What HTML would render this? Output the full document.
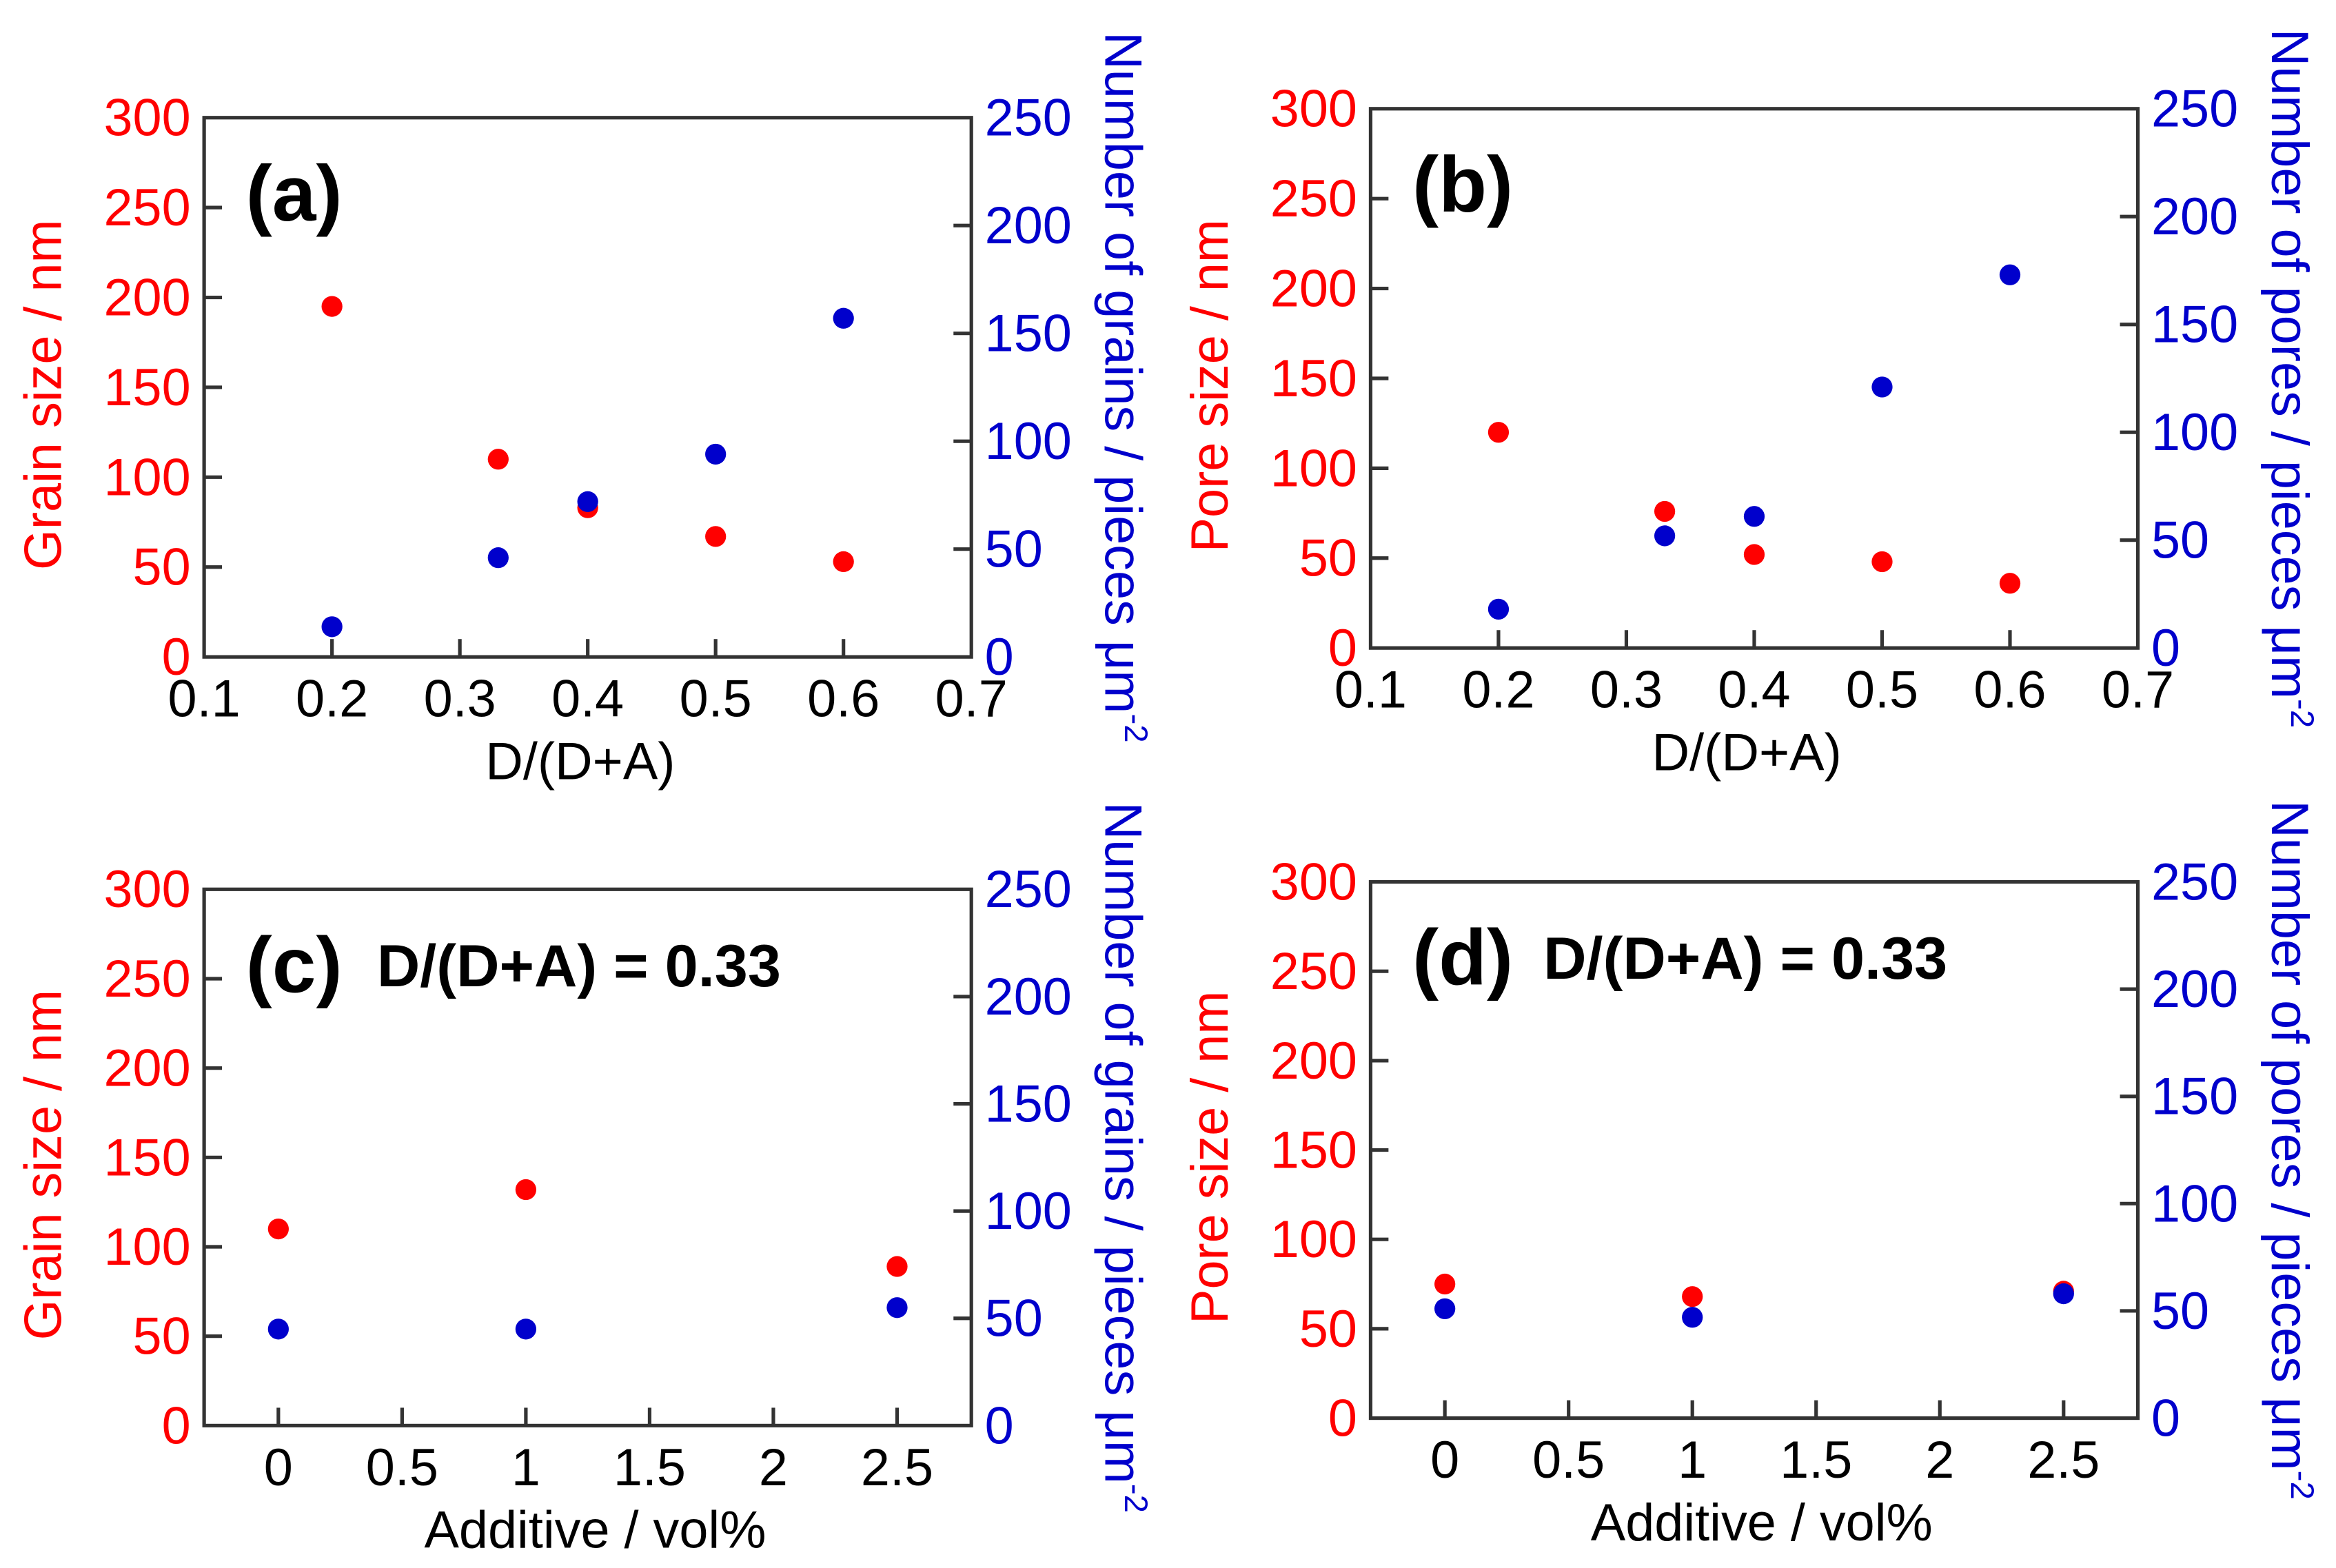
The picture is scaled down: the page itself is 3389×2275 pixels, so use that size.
<!DOCTYPE html>
<html><head><meta charset="utf-8"><style>html,body{margin:0;padding:0;background:#fff}svg{display:block}</style></head>
<body>
<svg id="fig" xmlns="http://www.w3.org/2000/svg" width="3389" height="2275" viewBox="0 0 1568 1052.6" font-family="Liberation Sans, Arial, sans-serif"></svg>
<script>
const xA = [0.2, 0.33, 0.4, 0.5, 0.6];
const redA = [195, 110, 83, 67, 53];
const blueA = [14, 46, 72, 94, 157];
const redB = [120, 76, 52, 48, 36];
const blueB = [18, 52, 61, 121, 173];
const xC = [0, 1, 2.5];
const redC = [110, 132, 89];
const blueC = [45, 45, 55];
const redD = [75, 68, 71];
const blueD = [51, 47, 58];
const xTicksAB = ["0.1","0.2","0.3","0.4","0.5","0.6","0.7"];
const xTicksCD = ["0","0.5","1","1.5","2","2.5"];
const leftTicks = ["0","50","100","150","200","250","300"];
const rightTicks = ["0","50","100","150","200","250"];

const NS = "http://www.w3.org/2000/svg";
const svg = document.getElementById('fig');
function mk(tag, attrs, parent) {
  const e = document.createElementNS(NS, tag);
  for (const k in attrs) e.setAttribute(k, attrs[k]);
  (parent || svg).appendChild(e);
  return e;
}
function panel(p) {
  const g = mk('g', {});
  
  
  const {x0, x1, y0, y1, xmin, xmax} = p;
  const sx = v => x0 + (v - xmin) / (xmax - xmin) * (x1 - x0);
  const syL = v => y1 - v / 300 * (y1 - y0);
  const syR = v => y1 - v / 250 * (y1 - y0);
  const box = mk('rect', {x: x0, y: y0, width: x1 - x0, height: y1 - y0, fill: 'none', stroke: '#333', 'stroke-width': 2.4}, g);
  
  
  leftTicks.forEach(t => {
    const v = +t, y = syL(v);
    if (v > 0 && v < 300) mk('line', {x1: x0, x2: x0 + 12, y1: y, y2: y, stroke: '#333', 'stroke-width': 2.4}, g);
    const tx = mk('text', {x: x0 - 9, y: y + 12, 'text-anchor': 'end', 'font-size': 35, fill: '#ff0000'}, g);
    tx.textContent = t;
    
    
  });
  rightTicks.forEach(t => {
    const v = +t, y = syR(v);
    if (v > 0 && v < 250) mk('line', {x1: x1 - 12, x2: x1, y1: y, y2: y, stroke: '#333', 'stroke-width': 2.4}, g);
    const tx = mk('text', {x: x1 + 9, y: y + 12, 'text-anchor': 'start', 'font-size': 35, fill: '#0000cc'}, g);
    tx.textContent = t;
    
    
  });
  p.xt.forEach(t => {
    const v = +t, x = sx(v);
    if (x > x0 + 1 && x < x1 - 1) mk('line', {x1: x, x2: x, y1: y1, y2: y1 - 12, stroke: '#333', 'stroke-width': 2.4}, g);
    const tx = mk('text', {x: x, y: y1 + 40, 'text-anchor': 'middle', 'font-size': 35, fill: '#000'}, g);
    tx.textContent = t;
    
    
  });
  const xt = mk('text', {x: (x0 + x1) / 2 + p.xtOff, y: y1 + 82, 'text-anchor': 'middle', 'font-size': 35, fill: '#000'}, g);
  xt.textContent = p.xtitle;
  
  
  const cy = (y0 + y1) / 2;
  const lt = mk('text', {x: 0, y: 0, transform: `translate(${x0 - 96},${cy + 5}) rotate(-90)`, 'text-anchor': 'middle', 'font-size': 35, fill: '#ff0000'}, g);
  lt.textContent = p.ltitle;
  
  
  const rt = mk('text', {x: 0, y: 0, transform: `translate(${x1 + 90},${cy}) rotate(90)`, 'text-anchor': 'middle', 'font-size': 35, fill: '#0000cc'}, g);
  rt.textContent = p.rtitle;
  const sup = mk('tspan', {dy: -13, 'font-size': 22}, rt);
  sup.textContent = '-2';
  
  
  const lab = mk('text', {x: x0 + 28, y: y0 + 69, 'font-size': 53, 'font-weight': 'bold', fill: '#000'}, g);
  lab.textContent = p.label;
  
  
  if (p.sub) {
    const s = mk('text', {x: x0 + 116, y: y0 + 65, 'font-size': 40, 'font-weight': 'bold', fill: '#000'}, g);
    s.textContent = p.sub;
    
    
  }
  p.xs.forEach((v, i) => {
    const c = mk('circle', {cx: sx(v), cy: syL(p.red[i]), r: 7, fill: '#ff0000'}, g);
    
    
  });
  p.xs.forEach((v, i) => {
    const c = mk('circle', {cx: sx(v), cy: syR(p.blue[i]), r: 7, fill: '#0000cc'}, g);
    
    
  });
}
panel({id:'a', x0:137, x1:652, y0:79, y1:441, xmin:0.1, xmax:0.7, xt:xTicksAB, xs:xA, red:redA, blue:blueA, xtitle:'D/(D+A)', xtOff:-5, ltitle:'Grain size / nm', rtitle:'Number of grains / pieces μm', label:'(a)'});
panel({id:'b', x0:920, x1:1435, y0:73, y1:435, xmin:0.1, xmax:0.7, xt:xTicksAB, xs:xA, red:redB, blue:blueB, xtitle:'D/(D+A)', xtOff:-5, ltitle:'Pore size / nm', rtitle:'Number of pores / pieces μm', label:'(b)'});
panel({id:'c', x0:137, x1:652, y0:597, y1:957, xmin:-0.3, xmax:2.8, xt:xTicksCD, xs:xC, red:redC, blue:blueC, xtitle:'Additive / vol%', xtOff:5, ltitle:'Grain size / nm', rtitle:'Number of grains / pieces μm', label:'(c)', sub:'D/(D+A) = 0.33'});
panel({id:'d', x0:920, x1:1435, y0:592, y1:952, xmin:-0.3, xmax:2.8, xt:xTicksCD, xs:xC, red:redD, blue:blueD, xtitle:'Additive / vol%', xtOff:5, ltitle:'Pore size / nm', rtitle:'Number of pores / pieces μm', label:'(d)', sub:'D/(D+A) = 0.33'});
</script>
</body></html>
